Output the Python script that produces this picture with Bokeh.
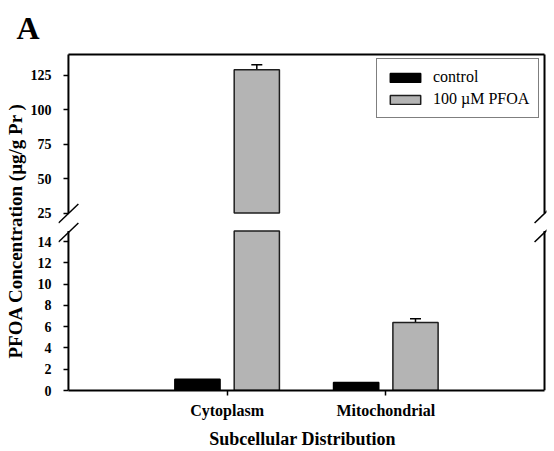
import numpy as np
from bokeh.plotting import figure
from bokeh.models import (Range1d, FixedTicker, ColumnDataSource, Legend, LegendItem,
                          Whisker, TeeHead, Title)
from bokeh.embed import file_html
from bokeh.resources import INLINE

# ---------------- data ----------------
categories = ["Cytoplasm", "Mitochondrial"]
control = [1.05, 0.75]
pfoa = [129.0, 6.4]
pfoa_err = [3.6, 0.35]
series_names = ["control", "100 \u00b5M PFOA"]
lower_ticks = [0, 2, 4, 6, 8, 10, 12, 14]
upper_ticks = [25, 50, 75, 100, 125]
lower_span = (0, 15)        # visible values of the lower axis segment
upper_span = (25, 140)      # visible values of the upper axis segment
y_label = "PFOA Concentration (\u00b5g/g Pr )"
x_label = "Subcellular Distribution"
panel_label = "A"

# ---------------- layout (pixels) ----------------
W, H = 554, 451
MB_LEFT, MB_RIGHT, MB_TOP, MB_BOTTOM = 55, 8, 51, 61
FW = W - MB_LEFT - MB_RIGHT
FH = H - MB_TOP - MB_BOTTOM
AXIS_X_PX = 10           # y axis line, px right of frame left
BOX_RIGHT_PX = 489       # right border, px right of frame left
LOWER_PX = 160           # height of lower segment
UPPER_BASE_PX = 178      # bottom of upper segment above frame bottom
TOP_PAD_PX = 2           # top border below frame top
SLASH_CENTERS_PX = [177.5, 158.5]
SLASH_HALF_W, SLASH_HALF_H = 10, 9.5

n = len(categories)
xpos = np.arange(1, n + 1, dtype=float)
x_max = float(n + 1)
ppx = (BOX_RIGHT_PX - AXIS_X_PX) / x_max
x_range = Range1d(-AXIS_X_PX / ppx, x_max + (FW - BOX_RIGHT_PX) / ppx)

ppy_l = LOWER_PX / (lower_span[1] - lower_span[0])
main_end = FH / ppy_l
ppy_u = (FH - TOP_PAD_PX - UPPER_BASE_PX) / (upper_span[1] - upper_span[0])
u0 = upper_span[0] - UPPER_BASE_PX / ppy_u
u1 = upper_span[1] + TOP_PAD_PX / ppy_u


def to_main(v):
    return round((v - u0) / (u1 - u0) * main_end, 6)


p = figure(width=W, height=H, x_range=x_range, y_range=Range1d(0, main_end),
           output_backend="svg", toolbar_location=None,
           min_border_left=MB_LEFT, min_border_right=MB_RIGHT,
           min_border_top=MB_TOP, min_border_bottom=MB_BOTTOM)
p.extra_y_ranges = {"upper": Range1d(u0, u1)}
p.xgrid.visible = False
p.ygrid.visible = False
p.outline_line_color = None
p.background_fill_color = "white"
p.border_fill_color = "white"

SERIF = "Liberation Serif"

# title "A"
p.title.text = panel_label
p.title.text_font = SERIF
p.title.text_font_size = "32px"
p.title.text_font_style = "bold"
p.title.text_color = "black"
p.title.align = "left"
p.title.offset = -42
p.title.standoff = 14

# y axis: ticks of both segments on one axis; ticks pushed right onto the drawn axis line
yax = p.yaxis[0]
up_main = [to_main(v) for v in upper_ticks]
yax.ticker = FixedTicker(ticks=[float(t) for t in lower_ticks] + up_main, minor_ticks=[])
yax.major_label_overrides = {m: str(v) for m, v in zip(up_main, upper_ticks)}
yax.axis_line_color = None
yax.major_tick_in = AXIS_X_PX
yax.major_tick_out = -(AXIS_X_PX - 5)
yax.major_tick_line_width = 1.5
yax.major_tick_line_color = "black"
yax.minor_tick_line_color = None
yax.major_label_text_font = SERIF
yax.major_label_text_font_style = "bold"
yax.major_label_text_font_size = "14px"
yax.major_label_text_color = "black"
yax.major_label_standoff = 7

# y label as a side title (positioned along the axis)
ytitle = Title(text=y_label, align="left", offset=32, standoff=4,
               text_font=SERIF, text_font_size="19px", text_font_style="bold",
               text_color="black")
p.add_layout(ytitle, "left")

# x axis
xax = p.xaxis[0]
xax.ticker = FixedTicker(ticks=list(xpos), minor_ticks=[])
xax.major_label_overrides = {float(x): c for x, c in zip(xpos, categories)}
xax.bounds = (0, x_max)
xax.axis_line_width = 2
xax.axis_line_color = "black"
xax.major_tick_in = 0
xax.major_tick_out = 5
xax.major_tick_line_width = 1.5
xax.major_tick_line_color = "black"
xax.minor_tick_line_color = None
xax.major_label_text_font = SERIF
xax.major_label_text_font_style = "bold"
xax.major_label_text_font_size = "16px"
xax.major_label_text_color = "black"
xax.major_label_standoff = 6
xax.axis_label = x_label
xax.axis_label_text_font = SERIF
xax.axis_label_text_font_style = "bold"
xax.axis_label_text_font_size = "18px"
xax.axis_label_text_color = "black"
xax.axis_label_standoff = 7

# ---------------- bars ----------------
OFF, BW = 0.187, 0.285
GRAY = "#b4b4b4"
ctrl = np.array(control)
pf = np.array(pfoa)
err = np.array(pfoa_err)

r_ctrl = p.vbar(x=xpos - OFF, bottom=0, top=np.minimum(ctrl, lower_span[1]), width=BW,
                fill_color="black", line_color="black", line_width=1.5)
r_pf = p.vbar(x=xpos + OFF, bottom=0, top=np.minimum(pf, lower_span[1]), width=BW,
              fill_color=GRAY, line_color="#1e1e1e", line_width=1.5)

hi_c = ctrl > upper_span[0]
if hi_c.any():
    p.vbar(x=(xpos - OFF)[hi_c], bottom=upper_span[0], top=ctrl[hi_c], width=BW,
           fill_color="black", line_color="black", line_width=1.5, y_range_name="upper")
hi_p = pf > upper_span[0]
if hi_p.any():
    p.vbar(x=(xpos + OFF)[hi_p], bottom=upper_span[0], top=pf[hi_p], width=BW,
           fill_color=GRAY, line_color="#1e1e1e", line_width=1.5, y_range_name="upper")

# error bars
for mask, rname in ((hi_p, "upper"), (~hi_p, "default")):
    if not mask.any():
        continue
    src = ColumnDataSource(dict(base=(xpos + OFF)[mask], upper=(pf + err)[mask],
                                lower=(pf - err)[mask]))
    wk = Whisker(base="base", upper="upper", lower="lower", source=src, dimension="height",
                 line_color="black", line_width=1.5,
                 upper_head=TeeHead(size=11, line_color="black", line_width=1.5),
                 lower_head=TeeHead(size=11, line_color="black", line_width=1.5))
    if rname == "upper":
        wk.y_range_name = "upper"
    p.add_layout(wk)

# ---------------- frame pieces ----------------
LW = 2
p.segment(x0=[0], y0=[upper_span[0]], x1=[0], y1=[upper_span[1]], line_color="black",
          line_width=LW, y_range_name="upper")
p.segment(x0=[0], y0=[lower_span[0]], x1=[0], y1=[lower_span[1]], line_color="black",
          line_width=LW)
p.segment(x0=[0], y0=[upper_span[1]], x1=[x_max], y1=[upper_span[1]], line_color="black",
          line_width=LW, y_range_name="upper")
p.segment(x0=[x_max], y0=[upper_span[0]], x1=[x_max], y1=[upper_span[1]], line_color="black",
          line_width=LW, y_range_name="upper")
p.segment(x0=[x_max], y0=[lower_span[0]], x1=[x_max], y1=[lower_span[1]], line_color="black",
          line_width=LW)

# break marks
hdx = SLASH_HALF_W / ppx
hdy = SLASH_HALF_H / ppy_l
sx0, sy0, sx1, sy1 = [], [], [], []
for xs in (0.0, x_max):
    for c in SLASH_CENTERS_PX:
        cm = c / ppy_l
        sx0.append(xs - hdx); sy0.append(cm - hdy)
        sx1.append(xs + hdx); sy1.append(cm + hdy)
p.segment(x0=sx0, y0=sy0, x1=sx1, y1=sy1, line_color="black", line_width=1.5)

# ---------------- legend ----------------
legend = Legend(items=[LegendItem(label=series_names[0], renderers=[r_ctrl]),
                       LegendItem(label=series_names[1], renderers=[r_pf])],
                location=(318, 272))
legend.label_text_font = SERIF
legend.label_text_font_size = "16px"
legend.label_text_color = "black"
legend.glyph_width = 38
legend.glyph_height = 11
legend.label_standoff = 9
legend.label_height = 17
legend.padding = 9
legend.spacing = 4
legend.margin = 0
legend.border_line_color = "black"
legend.border_line_width = 1.5
legend.background_fill_color = "white"
legend.background_fill_alpha = 1.0
p.add_layout(legend)

open("out.html", "w").write(file_html(p, INLINE))
